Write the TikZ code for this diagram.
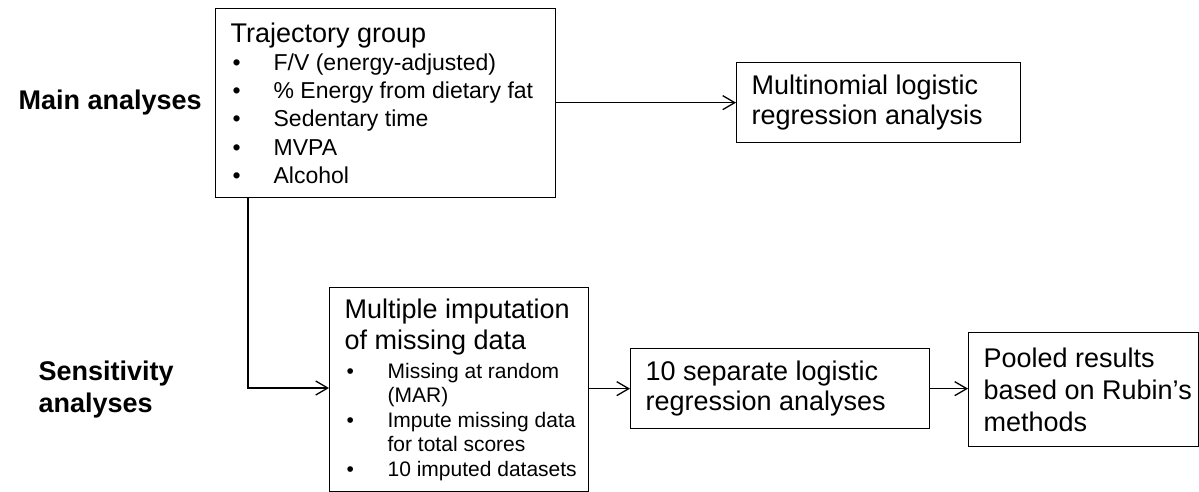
\documentclass[tikz,border=0pt]{standalone}
\usepackage{fontspec}
\setmainfont{Liberation Sans}
\usetikzlibrary{arrows.meta,positioning}
\newcommand{\itm}[1]{\mbox{\makebox[43pt][l]{\hspace{2pt}\textbullet}#1}}
\newcommand{\cnt}[1]{\mbox{\hspace*{43pt}#1}}
\newcommand{\sz}[2]{\fontsize{#1}{#2}\selectfont\spaceskip=0pt\xspaceskip=0pt}

\begin{document}
\begin{tikzpicture}[x=1pt, y=-1pt,
    box/.style={draw, line width=1.3pt, anchor=north west, inner xsep=15pt,
      inner ysep=0pt, align=left, font=\sz{27}{31}},
    arr/.style={-{Straight Barb[length=12pt,width=14pt]}, line width=1.3pt},
    side/.style={anchor=west, align=left, font=\sz{27}{32}\bfseries}]
    \useasboundingbox (0,0) rectangle (1199,492);
    % Row labels
    \node[side] (mainlbl) at (15,103) {Main analyses};
    \node[side] (senslbl) at (35,390) {Sensitivity\\ analyses};
    % Main analyses
    \node[box, text width=310pt, minimum height=189pt] (traj) at (215,8)
         {\sz{27}{29}Trajectory group\\
          \sz{23}{28.3}%
          \itm{F/V (energy-adjusted)}\\
          \itm{\% Energy from dietary fat}\\
          \itm{Sedentary time}\\
          \itm{MVPA}\\
          \itm{Alcohol}\par};
    \node[box, text width=254pt, minimum height=80pt] (multi) at (736,62)
         {\sz{27}{30}Multinomial logistic\\ regression analysis\par};
    % Sensitivity analyses
    \node[box, text width=229pt, minimum height=204pt] (imput) at (329,287)
         {\sz{27}{31}Multiple imputation\\ of missing data\par\vspace{4.5pt}
          \sz{21}{24.5}%
          \itm{Missing at random}\\
          \cnt{(MAR)}\\
          \itm{Impute missing data}\\
          \cnt{for total scores}\\
          \itm{10 imputed datasets}\par};
    \node[box, text width=269pt, minimum height=80pt] (sep) at (630,348)
         {\sz{27}{30}10 separate logistic\\ regression analyses\par};
    \node[box, text width=200pt, minimum height=114pt] (pooled) at (968,332)
         {\sz{27}{32}Pooled results\\ \mbox{based on Rubin’s}\\ methods\par};
    % Connectors
    \draw[arr] (traj.east |- multi.west) -- (multi.west);
    \coordinate (bend) at (248,388);
    \draw[arr] (traj.south -| bend) -- (bend) -- (imput.west |- bend);
    \draw[arr] (imput.east |- sep.west) -- (sep.west);
    \draw[arr] (sep.east) -- (pooled.west |- sep.east);
\end{tikzpicture}
\end{document}
